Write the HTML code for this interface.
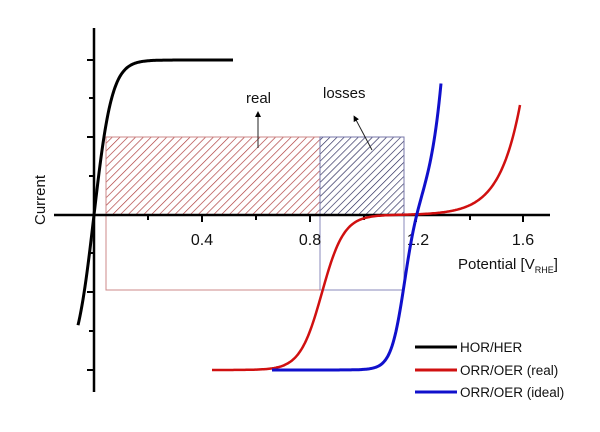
<!DOCTYPE html>
<html><head><meta charset="utf-8"><style>
body{margin:0;background:#fff}
svg{display:block}
text{font-family:"Liberation Sans",Arial,sans-serif}
</style></head><body>
<svg width="600" height="432" viewBox="0 0 600 432" xmlns="http://www.w3.org/2000/svg">
<defs>
<pattern id="hr" patternUnits="userSpaceOnUse" width="5.5" height="5.5" patternTransform="rotate(45)">
<line x1="0" y1="0" x2="0" y2="5.5" stroke="#a33" stroke-width="1.3"/></pattern>
<pattern id="hb" patternUnits="userSpaceOnUse" width="5" height="5" patternTransform="rotate(45)">
<line x1="0" y1="0" x2="0" y2="5" stroke="#225" stroke-width="1.3"/></pattern>
<marker id="ar" markerWidth="6" markerHeight="6" refX="3" refY="3" orient="auto"><path d="M0,0L6,3L0,6z" fill="#000"/></marker>
</defs>
<rect x="106" y="137" width="214" height="78" fill="url(#hr)" stroke="#c88" stroke-width="1"/>
<rect x="320" y="137" width="84" height="78" fill="url(#hb)" stroke="#77a" stroke-width="1"/>
<rect x="106" y="215" width="214" height="75" fill="none" stroke="#c88" stroke-width="1"/>
<rect x="320" y="215" width="84" height="75" fill="none" stroke="#88b" stroke-width="1"/>
<line x1="94" y1="28" x2="94" y2="392" stroke="#000" stroke-width="2.5"/>
<line x1="54" y1="215" x2="550" y2="215" stroke="#000" stroke-width="2.5"/>
<g stroke="#000" stroke-width="2">
<line x1="87" y1="60" x2="94" y2="60"/><line x1="89" y1="98" x2="94" y2="98"/>
<line x1="87" y1="137" x2="94" y2="137"/><line x1="89" y1="176" x2="94" y2="176"/>
<line x1="89" y1="253" x2="94" y2="253"/><line x1="87" y1="292" x2="94" y2="292"/>
<line x1="89" y1="331" x2="94" y2="331"/><line x1="87" y1="370" x2="94" y2="370"/>
<line x1="148" y1="215" x2="148" y2="220"/><line x1="202" y1="215" x2="202" y2="222"/>
<line x1="256" y1="215" x2="256" y2="220"/><line x1="310" y1="215" x2="310" y2="222"/>
<line x1="364" y1="215" x2="364" y2="220"/><line x1="416" y1="215" x2="416" y2="222"/>
<line x1="470" y1="215" x2="470" y2="220"/><line x1="523" y1="215" x2="523" y2="222"/>
</g>
<g font-size="16" text-anchor="middle" fill="#111">
<text x="202" y="245">0.4</text><text x="310" y="245">0.8</text>
<text x="418" y="245">1.2</text><text x="523" y="245">1.6</text>
</g>
<text x="458" y="269" font-size="15" fill="#111">Potential [V<tspan font-size="9" dy="4">RHE</tspan><tspan dy="-4">]</tspan></text>
<text transform="translate(45,200) rotate(-90)" font-size="15" text-anchor="middle" fill="#111">Current</text>
<text x="246" y="103" font-size="15" fill="#111">real</text>
<text x="323" y="98" font-size="15" fill="#111">losses</text>
<line x1="258" y1="148" x2="258" y2="114" stroke="#222" stroke-width="1" marker-end="url(#ar)"/>
<line x1="372" y1="150" x2="355" y2="118" stroke="#222" stroke-width="1" marker-end="url(#ar)"/>
<path id="hor" fill="none" stroke="#000" stroke-width="3"/>
<path id="red" fill="none" stroke="#d01010" stroke-width="2.5"/>
<path id="blue" fill="none" stroke="#1010cc" stroke-width="3"/>
<g stroke-width="3">
<line x1="415" y1="347" x2="457" y2="347" stroke="#000"/>
<line x1="415" y1="370" x2="457" y2="370" stroke="#d01010"/>
<line x1="415" y1="392" x2="457" y2="392" stroke="#1010cc"/>
</g>
<g font-size="13.5" fill="#111">
<text x="460" y="352">HOR/HER</text>
<text x="460" y="375">ORR/OER (real)</text>
<text x="460" y="397">ORR/OER (ideal)</text>
</g>
<script>
function mk(id,x0,x1,f){let d="";for(let x=x0;x<=x1;x+=1){d+=(d?"L":"M")+x+","+f(x).toFixed(1);}document.getElementById(id).setAttribute("d",d);}
mk("hor",78,233,x=>215-155*Math.tanh((x-94)/18));
mk("red",212,520,x=>292.5+77.5*Math.tanh((322-x)/22)-110*Math.exp((x-520)/20.8));
mk("blue",272,441,x=>292.5+77.5*Math.tanh((404-x)/13)-132*Math.exp((x-441)/12.6));
</script>
</svg>
</body></html>
